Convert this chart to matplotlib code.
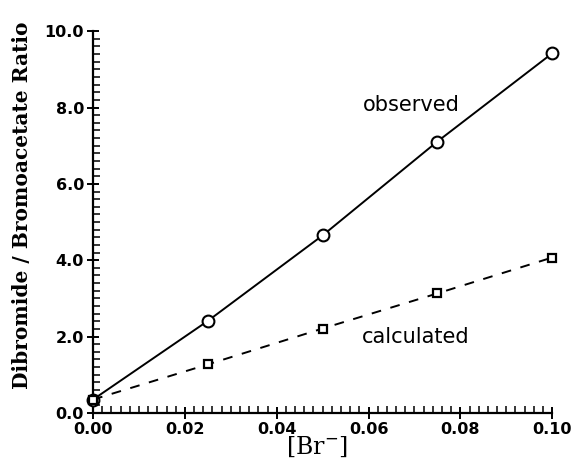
import matplotlib
matplotlib.use("Agg")
import matplotlib.pyplot as plt
from matplotlib.ticker import MultipleLocator, FormatStrFormatter

br = [0.0, 0.025, 0.05, 0.075, 0.10]
observed = [0.35, 2.41, 4.65, 7.11, 9.42]
calculated = [0.35, 1.27, 2.21, 3.13, 4.07]

fig = plt.figure(figsize=(5.71, 4.66), dpi=100)
ax = fig.add_axes([0.163, 0.114, 0.804, 0.819])

ax.plot(br, observed, color="black", lw=1.4, marker="o", ms=8.5, mfc="white",
        mec="black", mew=1.5, clip_on=False, zorder=3)
ax.plot(br, calculated, color="black", lw=1.4, ls=(0, (5, 5)), marker="s", ms=6,
        mfc="white", mec="black", mew=1.6, clip_on=False, zorder=3)

ax.set_xlim(0, 0.10)
ax.set_ylim(0, 10.0)
ax.xaxis.set_major_locator(MultipleLocator(0.02))
ax.xaxis.set_minor_locator(MultipleLocator(0.002))
ax.yaxis.set_major_locator(MultipleLocator(2.0))
ax.yaxis.set_minor_locator(MultipleLocator(0.2))
ax.xaxis.set_major_formatter(FormatStrFormatter("%.2f"))
ax.yaxis.set_major_formatter(FormatStrFormatter("%.1f"))

for s in ["top", "right"]:
    ax.spines[s].set_visible(False)
for s in ["left", "bottom"]:
    ax.spines[s].set_linewidth(1.6)

ax.tick_params(which="major", direction="inout", length=9, width=1.4, labelsize=11.5, pad=2)
ax.tick_params(which="minor", direction="in", length=5, width=1.1)
for lab in ax.get_xticklabels() + ax.get_yticklabels():
    lab.set_fontweight("bold")
    lab.set_family("DejaVu Sans")

ax.set_xlabel("[Br$^{-}$]", fontsize=17, family="DejaVu Serif")
ax.xaxis.set_label_coords(0.488, -0.058)
ax.set_ylabel("Dibromide / Bromoacetate Ratio", fontsize=14.5, family="DejaVu Serif",
              fontweight="bold")
ax.yaxis.set_label_coords(-0.133, 0.545)

ax.text(0.0588, 8.06, "observed", fontsize=15, ha="left", va="center")
ax.text(0.0586, 1.99, "calculated", fontsize=15, ha="left", va="center")

fig.savefig("out.png", dpi=100)
